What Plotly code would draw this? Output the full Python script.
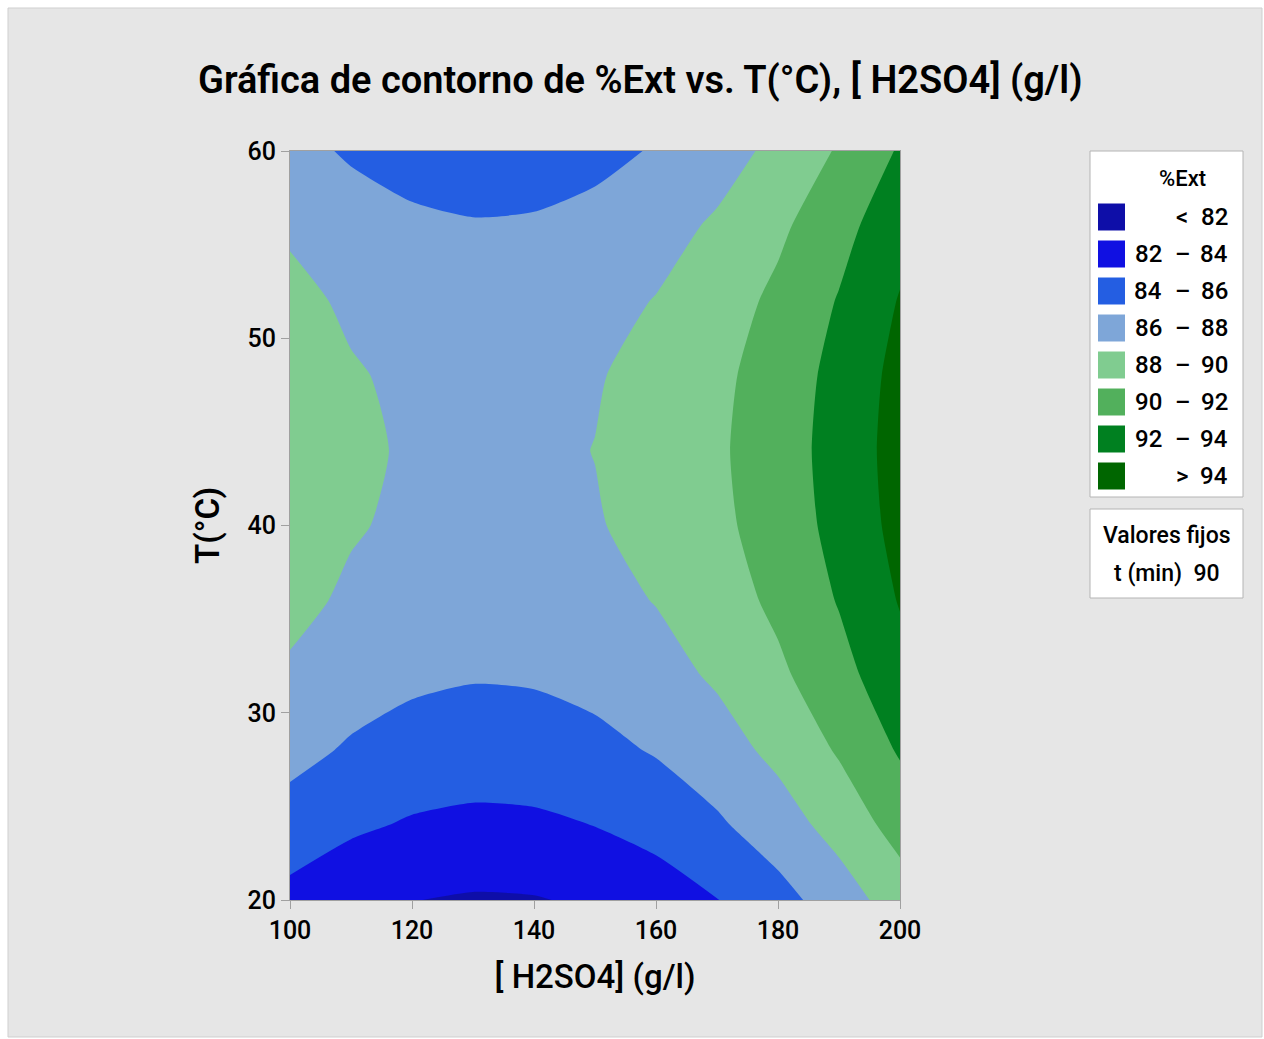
import plotly.graph_objects as go

# ---- data ----
h2so4 = [100, 110, 120, 130, 140, 150, 160, 170, 180, 190, 200]
temp = [20, 24, 28, 32, 36, 40, 44, 48, 52, 56, 60]
ext = [
    [83.41, 82.57, 82.04, 81.81, 81.89, 82.27, 82.95, 83.95, 85.30, 87.00, 89.00],  # 20
    [85.17, 84.33, 83.80, 83.57, 83.65, 84.03, 84.71, 85.71, 87.06, 88.76, 90.76],  # 24
    [86.61, 85.77, 85.24, 85.01, 85.09, 85.47, 86.15, 87.15, 88.50, 90.20, 92.20],  # 28
    [87.73, 86.89, 86.36, 86.13, 86.21, 86.59, 87.27, 88.27, 89.62, 91.32, 93.32],  # 32
    [88.53, 87.69, 87.16, 86.93, 87.01, 87.39, 88.07, 89.07, 90.42, 92.12, 94.12],  # 36
    [89.01, 88.17, 87.64, 87.41, 87.49, 87.87, 88.55, 89.55, 90.90, 92.60, 94.60],  # 40
    [89.17, 88.33, 87.80, 87.57, 87.65, 88.03, 88.71, 89.71, 91.06, 92.76, 94.76],  # 44
    [89.01, 88.17, 87.64, 87.41, 87.49, 87.87, 88.55, 89.55, 90.90, 92.60, 94.60],  # 48
    [88.53, 87.69, 87.16, 86.93, 87.01, 87.39, 88.07, 89.07, 90.42, 92.12, 94.12],  # 52
    [87.73, 86.89, 86.36, 86.13, 86.21, 86.59, 87.27, 88.27, 89.62, 91.32, 93.32],  # 56
    [86.61, 85.77, 85.24, 85.01, 85.09, 85.47, 86.15, 87.15, 88.50, 90.20, 92.20],  # 60
]

level_start = 82
level_end = 94
level_step = 2
band_colors = ["#0e0ea8", "#1010e2", "#245ee2", "#7ea6d8",
               "#80cc90", "#52b05c", "#008020", "#006600"]
band_left = ["", "82", "84", "86", "88", "90", "92", ""]
band_mid = ["<", "–", "–", "–", "–", "–", "–", ">"]
band_right = ["82", "84", "86", "88", "90", "92", "94", "94"]

x_ticks = [100, 120, 140, 160, 180, 200]
y_ticks = [20, 30, 40, 50, 60]

title_text = "Gráfica de contorno de %Ext vs. T(°C), [ H2SO4] (g/l)"
x_title = "[ H2SO4] (g/l)"
y_title = "T(°C)"
legend_title = "%Ext"
fixed_title = "Valores fijos"
fixed_name = "t (min)"
fixed_value = "90"

FONT = "Roboto"
W, H = 1264, 1039
L, R, T, B = 290, 900, 151, 900

# stepped colour scale: one flat colour per band
n = len(band_colors)
cscale = []
for i, c in enumerate(band_colors):
    cscale.append([i / n, c])
    cscale.append([(i + 1) / n, c])

fig = go.Figure()
fig.add_trace(go.Contour(
    x=h2so4, y=temp, z=ext,
    contours=dict(start=level_start, end=level_end, size=level_step,
                  coloring="fill", showlines=False),
    line=dict(width=0, smoothing=0.6),
    colorscale=cscale, showscale=False, hoverinfo="x+y+z",
))


def px(xp):
    return (xp - L) / (R - L)


def py(yp):
    return (B - yp) / (B - T)


shapes = []
annotations = []

# outer frame
shapes.append(dict(type="rect", xref="paper", yref="paper", layer="below",
                   x0=px(8), x1=px(1262), y0=py(1037), y1=py(8),
                   fillcolor="#e6e6e6", line=dict(color="#cfcfcf", width=1)))

# legend box
shapes.append(dict(type="rect", xref="paper", yref="paper",
                   x0=px(1090), x1=px(1243), y0=py(497), y1=py(151),
                   fillcolor="white", line=dict(color="#b4b4b4", width=1)))
annotations.append(dict(xref="paper", yref="paper", x=px(1182), y=py(178),
                        text=legend_title, showarrow=False,
                        font=dict(family=FONT, size=22, color="black", weight=500),
                        xanchor="center", yanchor="middle"))
for i, c in enumerate(band_colors):
    yc = 217 + i * 37.0
    shapes.append(dict(type="rect", xref="paper", yref="paper",
                       x0=px(1098), x1=px(1125), y0=py(yc + 13.5), y1=py(yc - 13.5),
                       fillcolor=c, line=dict(width=0)))
    if band_left[i]:
        annotations.append(dict(xref="paper", yref="paper", x=px(1148), y=py(yc),
                                text=band_left[i], showarrow=False,
                                font=dict(family=FONT, size=24, color="black", weight=500),
                                xanchor="center", yanchor="middle"))
    annotations.append(dict(xref="paper", yref="paper", x=px(1182), y=py(yc),
                            text=band_mid[i], showarrow=False,
                            font=dict(family=FONT, size=24, color="black", weight=500),
                            xanchor="center", yanchor="middle"))
    annotations.append(dict(xref="paper", yref="paper", x=px(1230), y=py(yc),
                            text=band_right[i], showarrow=False,
                            font=dict(family=FONT, size=24, color="black", weight=500),
                            xanchor="right", yanchor="middle"))

# fixed values box
shapes.append(dict(type="rect", xref="paper", yref="paper",
                   x0=px(1090), x1=px(1243), y0=py(598), y1=py(509),
                   fillcolor="white", line=dict(color="#b4b4b4", width=1)))
annotations.append(dict(xref="paper", yref="paper", x=px(1167), y=py(535),
                        text=fixed_title, showarrow=False,
                        font=dict(family=FONT, size=23, color="black", weight=500),
                        xanchor="center", yanchor="middle"))
annotations.append(dict(xref="paper", yref="paper", x=px(1167), y=py(573),
                        text=fixed_name + "  " + fixed_value, showarrow=False,
                        font=dict(family=FONT, size=23, color="black", weight=500),
                        xanchor="center", yanchor="middle"))

# title
annotations.append(dict(xref="paper", yref="paper", x=px(640), y=py(80),
                        text=title_text, showarrow=False,
                        font=dict(family=FONT, size=38, color="black", weight=600),
                        xanchor="center", yanchor="middle"))

fig.update_layout(
    width=W, height=H,
    margin=dict(l=L, r=W - R, t=T, b=H - B, pad=0),
    paper_bgcolor="white", plot_bgcolor="white",
    shapes=shapes, annotations=annotations,
    font=dict(family=FONT, color="black"),
    xaxis=dict(range=[100, 200], tickvals=x_ticks, ticks="outside", ticklen=8,
               tickcolor="#a0a0a0", showline=True, linecolor="#a0a0a0",
               mirror=True, showgrid=False, zeroline=False,
               tickfont=dict(family=FONT, size=25, color="black", weight=500),
               title=dict(text=x_title, font=dict(family=FONT, size=33, color="black", weight=500),
                          standoff=20)),
    yaxis=dict(range=[20, 60], tickvals=y_ticks, ticks="outside", ticklen=8,
               tickcolor="#a0a0a0", showline=True, linecolor="#a0a0a0",
               mirror=True, showgrid=False, zeroline=False,
               tickfont=dict(family=FONT, size=25, color="black", weight=500),
               title=dict(text=y_title, font=dict(family=FONT, size=33, color="black", weight=600),
                          standoff=18)),
)

fig.write_html("out.html")
